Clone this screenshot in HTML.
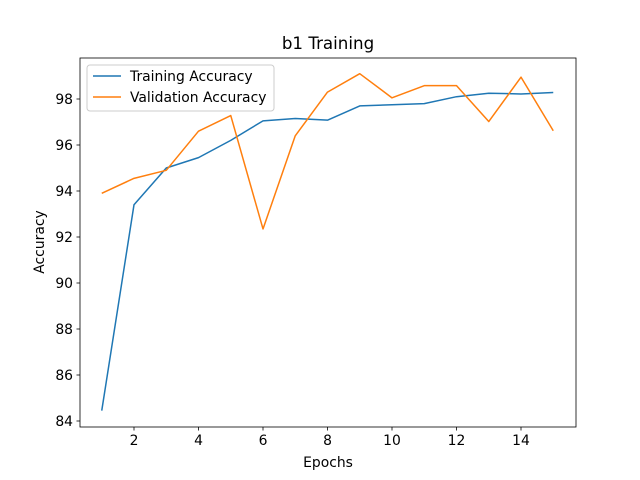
<!DOCTYPE html>
<html><head><meta charset="utf-8"><style>
body{margin:0;background:#fff;}
svg{display:block;font-family:"DejaVu Sans","Liberation Sans",sans-serif;}
</style></head><body>
<svg id="chart" width="640" height="480" viewBox="0 0 640 480">
<rect width="640" height="480" fill="#fff"/>
<text x="328" y="49" font-size="16.7" text-anchor="middle">b1 Training</text>
<g id="ticks"></g>
<g id="lines"></g>
<rect x="80" y="58" width="496" height="369" fill="none" stroke="#000" stroke-width="0.8"/>
<text x="328" y="467" font-size="13.9" text-anchor="middle">Epochs</text>
<text x="44" y="242" font-size="13.9" text-anchor="middle" transform="rotate(-90 44 242)">Accuracy</text>
<g>
<rect x="87" y="65" width="187" height="46" rx="3" fill="#fff" fill-opacity="0.8" stroke="#ccc"/>
<g>
<line x1="93" y1="76" x2="121" y2="76" stroke="#1f77b4" stroke-width="1.5"/>
<text x="130" y="81" font-size="13.9">Training Accuracy</text></g>
<g>
<line x1="93" y1="97" x2="121" y2="97" stroke="#ff7f0e" stroke-width="1.5"/>
<text x="130" y="102" font-size="13.9">Validation Accuracy</text></g>
</g>
</svg>
<script>
const epochs=[1,2,3,4,5,6,7,8,9,10,11,12,13,14,15];
const trainAcc=[84.45,93.4,95.0,95.45,96.2,97.05,97.15,97.08,97.7,97.75,97.8,98.1,98.25,98.22,98.28];
const valAcc=[93.9,94.55,94.9,96.6,97.28,92.35,96.4,98.3,99.1,98.05,98.58,98.58,97.02,98.95,96.62];
const xTicks=[2,4,6,8,10,12,14];
const yTicks=[84,86,88,90,92,94,96,98];
const NS="http://www.w3.org/2000/svg";
function xs(v){return 101.75+(v-1)*32.25;}
function ys(v){return 421-(v-84)*23;}
const tg=document.getElementById('ticks');
function mk(t,a,p){const e=document.createElementNS(NS,t);for(const k in a)e.setAttribute(k,a[k]);p.appendChild(e);return e;}
xTicks.forEach(v=>{
 const l=mk('line',{x1:xs(v),x2:xs(v),y1:427,y2:430.5,stroke:'#000','stroke-width':0.8},tg);
 
 
 const t=mk('text',{x:xs(v),y:445,'font-size':13.9,'text-anchor':'middle'},tg);t.textContent=v;
 
 
});
yTicks.forEach(v=>{
 const l=mk('line',{x1:76.5,x2:80,y1:ys(v),y2:ys(v),stroke:'#000','stroke-width':0.8},tg);
 
 
 const t=mk('text',{x:73,y:ys(v)+5,'font-size':13.9,'text-anchor':'end'},tg);t.textContent=v;
 
 
});
const lg=document.getElementById('lines');
function series(d,c,n){
 const p=mk('polyline',{points:d.map((v,i)=>xs(epochs[i])+','+ys(v)).join(' '),fill:'none',stroke:c,'stroke-width':1.5,'stroke-linejoin':'round'},lg);
 
 
}
series(trainAcc,'#1f77b4','training-accuracy-line');
series(valAcc,'#ff7f0e','validation-accuracy-line');
</script>
</body></html>
